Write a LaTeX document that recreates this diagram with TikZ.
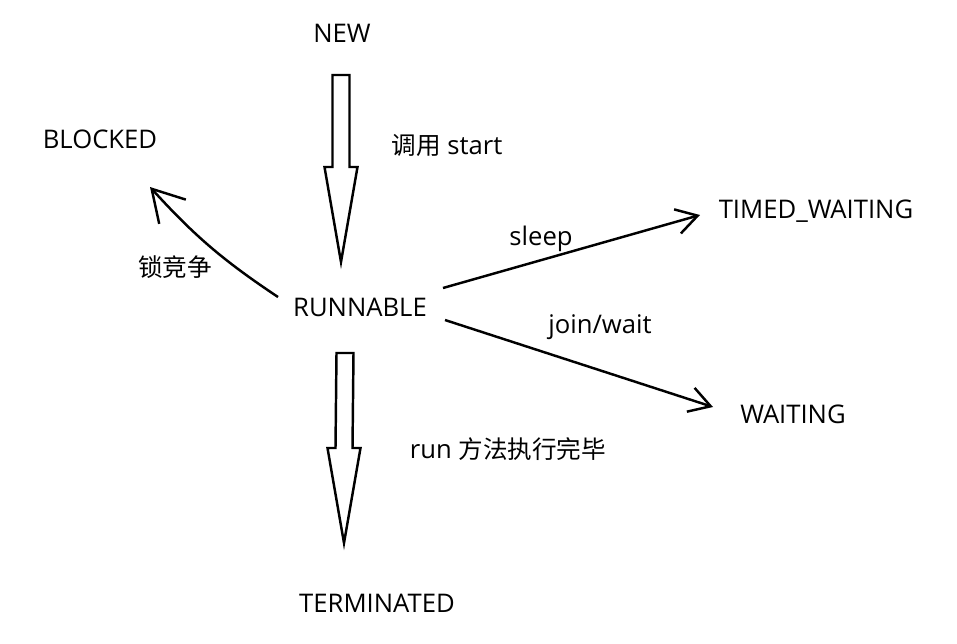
\documentclass[tikz,border=0pt]{standalone}
\usepackage{fontspec}
\setmainfont{Open Sans}
\newfontfamily\cjk{Noto Sans CJK SC}
\usetikzlibrary{arrows.meta,calc}
\tikzset{
  state/.style={font=\fontsize{14.6}{17}\selectfont},
  lbl/.style={font=\fontsize{14.6}{17}\selectfont},
  hand/.style={line width=1.4pt,-{Straight Barb[length=0.42cm,width=0.5cm]}},
  bighand/.style={line width=1.4pt,-{Straight Barb[length=0.62cm,width=0.72cm]}},
  fatline/.style={line width=1.4pt,line join=miter}
}
\newcommand{\zh}[1]{{\cjk\fontsize{14}{17}\selectfont #1}}
% hollow block arrow, straight down from #1 to the tip #2
\newcommand{\fatarrow}[2]{%
  \draw[fatline] ($(#1)+(-8.5,0)$) -- ($(#1)+(8.5,0)$) -- ($(#2)+(8.5,-95)$)
    -- ($(#2)+(16.5,-95)$) -- (#2) -- ($(#2)+(-16.5,-95)$)
    -- ($(#2)+(-8.5,-95)$) -- cycle;}
\begin{document}
\begin{tikzpicture}[x=0.02cm,y=-0.02cm]
\useasboundingbox (0,0) rectangle (957,643);
% states
\node[state] (new) at (342,33) {NEW};
\node[state] (blocked) at (100,139) {BLOCKED};
\node[state] (runnable) at (360,307) {RUNNABLE};
\node[state] (timed) at (816,211) {TIMED\_WAITING};
\node[state] (waiting) at (793,414) {WAITING};
\node[state] (term) at (377,603) {TERMINATED};
% labels
\node[lbl] (lstart) at (447,145) {\zh{调用} start};
\node[lbl] (llock) at (175,267) {\zh{锁竞争}};
\node[lbl] (lsleep) at (541,239) {sleep};
\node[lbl] (ljoin) at (600,327) {join/wait};
\node[lbl] (lrun) at (508,449) {run \zh{方法执行完毕}};
% ends of the connectors
\coordinate (fat1a) at ($(new)+(-1,42)$);
\coordinate (fat1b) at ($(runnable)+(-19,-45)$);
\coordinate (fat2a) at ($(runnable)+(-15,46)$);
\coordinate (fat2b) at ($(term)+(-33,-60)$);
\coordinate (blkS) at ($(runnable)+(-82,-10)$);
\coordinate (blkE) at ($(blocked)+(50,48)$);
\coordinate (slpS) at ($(runnable)+(83,-19)$);
\coordinate (slpE) at ($(timed)+(-116,4)$);
\coordinate (jnS) at ($(runnable)+(85,13)$);
\coordinate (jnE) at ($(waiting)+(-80,-7)$);
% transitions
\fatarrow{fat1a}{fat1b}
\fatarrow{fat2a}{fat2b}
\draw[bighand] (blkS) to[bend left=7] (blkE);
\draw[hand] (slpS) -- (slpE);
\draw[hand] (jnS) -- (jnE);
\end{tikzpicture}
\end{document}
